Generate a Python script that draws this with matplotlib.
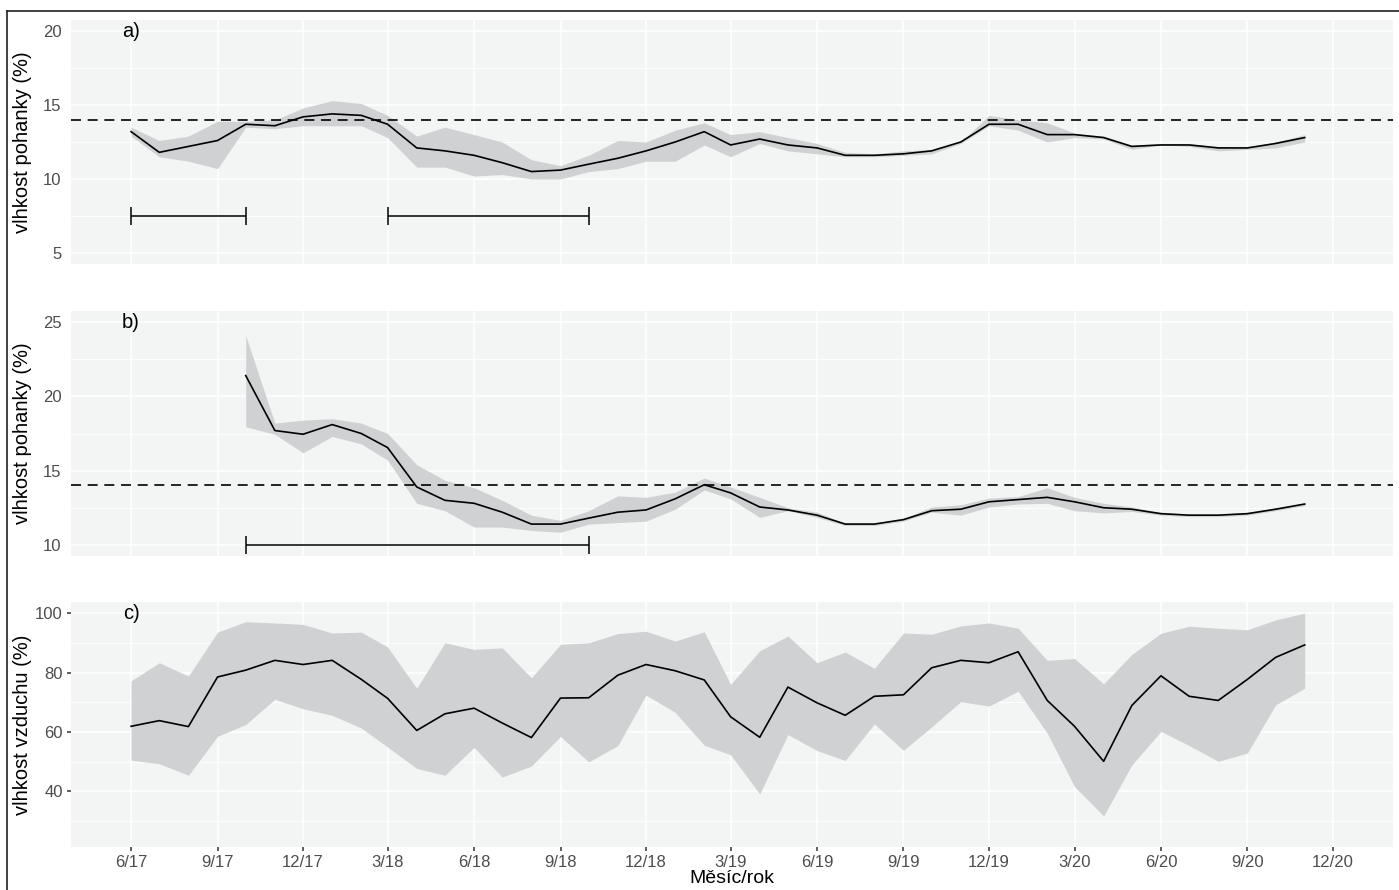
import matplotlib
matplotlib.use("Agg")
import matplotlib.pyplot as plt
import matplotlib.dates as mdates
from matplotlib.lines import Line2D
from matplotlib.ticker import FixedLocator, FuncFormatter
import pandas as pd
import numpy as np

plt.rcParams['font.family'] = ['Liberation Sans', 'DejaVu Sans']

# Monthly sampling dates
months = pd.date_range('2017-06-01', '2020-11-01', freq='MS')
months_b = pd.date_range('2017-10-01', '2020-11-01', freq='MS')

# a) buckwheat moisture, site A
a_mean = [13.2, 11.8, 12.2, 12.6, 13.7, 13.6, 14.2, 14.4, 14.3, 13.7, 12.1, 11.9, 11.6, 11.1,
          10.5, 10.6, 11.0, 11.4, 11.9, 12.5, 13.2, 12.3, 12.7, 12.3, 12.1, 11.6, 11.6, 11.7,
          11.9, 12.5, 13.7, 13.7, 13.0, 13.0, 12.8, 12.2, 12.3, 12.3, 12.1, 12.1, 12.4, 12.8]
a_upper = [13.5, 12.6, 12.9, 13.9, 13.9, 14.0, 14.8, 15.3, 15.1, 14.3, 12.9, 13.5, 13.0, 12.5,
           11.3, 10.9, 11.6, 12.6, 12.5, 13.3, 13.8, 13.0, 13.2, 12.8, 12.4, 11.8, 11.7, 11.9,
           12.0, 12.5, 14.3, 14.0, 13.8, 13.1, 12.9, 12.3, 12.4, 12.4, 12.2, 12.1, 12.5, 13.0]
a_lower = [12.9, 11.5, 11.2, 10.7, 13.5, 13.4, 13.6, 13.6, 13.6, 12.8, 10.8, 10.8, 10.2, 10.3,
           10.0, 10.0, 10.5, 10.7, 11.2, 11.2, 12.3, 11.5, 12.4, 11.9, 11.7, 11.5, 11.5, 11.6,
           11.7, 12.4, 13.6, 13.3, 12.5, 12.8, 12.7, 12.0, 12.3, 12.2, 11.9, 12.0, 12.1, 12.5]

# b) buckwheat moisture, site B (from 10/17)
b_mean = [21.4, 17.7, 17.45, 18.1, 17.5, 16.55, 13.9, 13.0, 12.8, 12.2, 11.4, 11.4, 11.8,
          12.2, 12.35, 13.1, 14.05, 13.5, 12.55, 12.35, 12.0, 11.4, 11.4, 11.7, 12.3, 12.4,
          12.9, 13.05, 13.2, 12.9, 12.5, 12.4, 12.1, 12.0, 12.0, 12.1, 12.4, 12.75]
b_upper = [24.1, 18.2, 18.4, 18.5, 18.2, 17.5, 15.4, 14.35, 13.85, 13.0, 12.0, 11.65, 12.3,
           13.3, 13.2, 13.55, 14.5, 13.9, 13.2, 12.5, 12.2, 11.45, 11.45, 11.8, 12.55, 12.7,
           13.15, 13.25, 13.85, 13.2, 12.8, 12.55, 12.2, 12.05, 12.05, 12.2, 12.5, 12.8]
b_lower = [17.95, 17.45, 16.2, 17.3, 16.8, 15.7, 12.8, 12.3, 11.2, 11.2, 10.97, 10.85, 11.4,
           11.5, 11.6, 12.4, 13.7, 13.1, 11.85, 12.3, 11.85, 11.3, 11.3, 11.6, 12.2, 12.0,
           12.55, 12.75, 12.8, 12.3, 12.15, 12.25, 12.0, 11.9, 11.9, 12.0, 12.3, 12.65]

# c) air humidity
c_mean = [61.9, 63.8, 61.8, 78.5, 80.8, 84.1, 82.7, 84.1, 77.7, 71.3, 60.5, 66.1, 68.0, 63.0,
          58.1, 71.4, 71.5, 79.1, 82.7, 80.6, 77.5, 65.1, 58.2, 75.1, 69.8, 65.6, 72.0, 72.5,
          81.6, 84.1, 83.3, 87.0, 70.6, 61.9, 50.1, 68.9, 78.9, 72.0, 70.6, 77.7, 85.1, 89.3]
c_upper = [77.2, 83.3, 78.8, 93.6, 97.1, 96.7, 96.2, 93.3, 93.6, 88.6, 74.7, 90.0, 87.8, 88.3,
           78.2, 89.5, 90.0, 93.1, 93.9, 90.6, 93.7, 76.0, 87.3, 92.3, 83.3, 86.9, 81.4, 93.3,
           92.9, 95.7, 96.7, 94.9, 84.1, 84.7, 76.2, 86.1, 93.2, 95.6, 94.9, 94.4, 97.7, 100.0]
c_lower = [50.5, 49.3, 45.4, 58.5, 62.5, 71.0, 67.8, 65.6, 61.3, 54.9, 47.7, 45.4, 54.8, 44.8,
           48.5, 58.5, 49.9, 55.4, 72.4, 66.6, 55.5, 52.3, 39.1, 59.1, 53.7, 50.4, 62.7, 53.8,
           61.7, 70.2, 68.7, 73.7, 59.6, 41.6, 31.7, 48.9, 60.2, 55.4, 50.1, 52.9, 69.1, 74.7]

# storage periods (start, end) drawn as horizontal bars
a_periods = [('2017-06-01', '2017-10-01'), ('2018-03-01', '2018-10-01')]
a_period_y = 7.5
b_periods = [('2017-10-01', '2018-10-01')]
b_period_y = 10

threshold = 14
tick_dates = pd.date_range('2017-06-01', '2020-12-01', freq='3MS')

BG = '#F3F5F4'
BAND = '#D0D1D3'
TICKCOL = '#4D4D4D'

fig = plt.figure(figsize=(13.99, 8.90), dpi=100)
W, H = 1399, 890
left, right = 71, 1393
panels = [(20, 264), (311, 556), (602, 847)]
axes = []
for top, bot in panels:
    ax = fig.add_axes([left / W, 1 - bot / H, (right - left) / W, (bot - top) / H])
    axes.append(ax)

x0 = mdates.date2num(pd.Timestamp('2017-06-01'))
x1 = mdates.date2num(pd.Timestamp('2020-12-01'))
pad = (x1 - x0) * 0.05


def style(ax, ylim, major, minor, show_x):
    ax.set_facecolor(BG)
    for s in ax.spines.values():
        s.set_visible(False)
    ax.set_xlim(x0 - pad, x1 + pad)
    ax.set_ylim(*ylim)
    ax.xaxis.set_major_locator(FixedLocator(mdates.date2num(tick_dates)))
    ax.xaxis.set_major_formatter(FuncFormatter(
        lambda v, p: f"{mdates.num2date(v).month}/{mdates.num2date(v).year % 100:02d}"))
    ax.yaxis.set_major_locator(FixedLocator(major))
    ax.yaxis.set_minor_locator(FixedLocator(minor))
    ax.grid(True, which='major', color='white', linewidth=1.1)
    ax.grid(True, which='minor', axis='y', color='white', linewidth=0.6)
    ax.set_axisbelow(True)
    ax.tick_params(axis='y', which='minor', length=0)
    if show_x:
        ax.tick_params(axis='both', which='major', length=3, width=1.1, color='#333333',
                       labelcolor=TICKCOL, labelsize=12)
        ax.tick_params(axis='x', pad=2.5)
        ax.tick_params(axis='y', pad=3)
    else:
        ax.tick_params(axis='x', which='both', length=0, labelbottom=False)
        ax.tick_params(axis='y', which='major', length=0, pad=7, labelcolor=TICKCOL,
                       labelsize=12)


def draw_series(ax, dates, mean, lower, upper):
    xd = mdates.date2num(dates)
    ax.fill_between(xd, lower, upper, color=BAND, linewidth=0, zorder=2)
    ax.plot(xd, mean, color='black', linewidth=1.2, zorder=3)


def draw_periods(ax, periods, y):
    for s, e in periods:
        xs = mdates.date2num(pd.Timestamp(s))
        xe = mdates.date2num(pd.Timestamp(e))
        ax.errorbar([(xs + xe) / 2], [y], xerr=[(xe - xs) / 2], fmt='none', ecolor='black',
                    elinewidth=1.1, capsize=6.8, capthick=1.1, zorder=4)


ax_a, ax_b, ax_c = axes

style(ax_a, (4.25, 20.75), [5, 10, 15, 20], [7.5, 12.5, 17.5], False)
draw_series(ax_a, months, a_mean, a_lower, a_upper)
ax_a.axhline(threshold, color='black', linewidth=1.2, dashes=(6, 4), zorder=3)
draw_periods(ax_a, a_periods, a_period_y)
ax_a.set_ylabel('vlhkost pohanky (%)', fontsize=14.5, va='center')

style(ax_b, (9.25, 25.75), [10, 15, 20, 25], [12.5, 17.5, 22.5], False)
draw_series(ax_b, months_b, b_mean, b_lower, b_upper)
ax_b.axhline(threshold, color='black', linewidth=1.2, dashes=(6, 4), zorder=3)
draw_periods(ax_b, b_periods, b_period_y)
ax_b.set_ylabel('vlhkost pohanky (%)', fontsize=14.5, va='center')

style(ax_c, (21.25, 103.75), [40, 60, 80, 100], [30, 50, 70, 90], True)
draw_series(ax_c, months, c_mean, c_lower, c_upper)
ax_c.set_ylabel('vlhkost vzduchu (%)', fontsize=14.5, va='center')
ax_c.set_xlabel('Měsíc/rok', fontsize=14, labelpad=0)

for ax in axes:
    ax.yaxis.set_label_coords((23 - left) / (right - left), 0.5)

xfirst = mdates.date2num(pd.Timestamp('2017-06-01'))
for ax, lab, yv in [(ax_a, 'a)', 20), (ax_b, 'b)', 25), (ax_c, 'c)', 100)]:
    ax.text(xfirst, yv, lab, fontsize=14.5, ha='center', va='center', color='black', zorder=5)

# outer frame (top and left edges)
fig.add_artist(Line2D([7 / W, 1], [1 - 11 / H, 1 - 11 / H], color='#222222', linewidth=1.2,
                      transform=fig.transFigure))
fig.add_artist(Line2D([7 / W, 7 / W], [0, 1 - 11 / H], color='#222222', linewidth=1.2,
                      transform=fig.transFigure))

fig.savefig('out.png', dpi=100, facecolor='white')
